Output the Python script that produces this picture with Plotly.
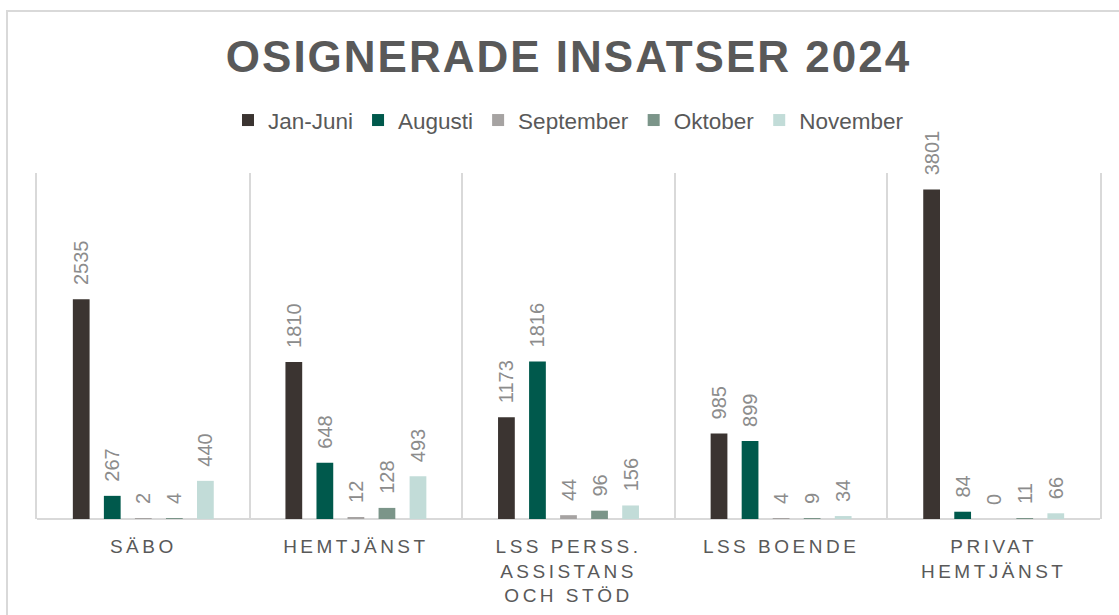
import plotly.graph_objects as go

categories = ["SÄBO", "HEMTJÄNST", "LSS PERSS.<br>ASSISTANS<br>OCH STÖD", "LSS BOENDE", "PRIVAT<br>HEMTJÄNST"]
series_names = ["Jan-Juni", "Augusti", "September", "Oktober", "November"]
jan_juni = [2535, 1810, 1173, 985, 3801]
augusti = [267, 648, 1816, 899, 84]
september = [2, 12, 44, 4, 0]
oktober = [4, 128, 96, 9, 11]
november = [440, 493, 156, 34, 66]
colors = ["#3b3431", "#00594c", "#a6a3a2", "#7b9589", "#c2dcd8"]

series_values = [jan_juni, augusti, september, oktober, november]
FONT = "Liberation Sans, Arial, sans-serif"

fig = go.Figure()
xpos = list(range(len(categories)))
for name, vals, col in zip(series_names, series_values, colors):
    fig.add_trace(go.Bar(
        x=xpos, y=vals, name=name, marker=dict(color=col, line=dict(width=0)),
        text=vals, texttemplate="\u00a0\u00a0%{text}", textposition="outside",
        textangle=-90, constraintext="none", cliponaxis=False,
        textfont=dict(family=FONT, size=20, color="#8c8c8c"),
        hoverinfo="skip",
    ))

fig.update_layout(
    width=1119, height=615,
    margin=dict(l=37, r=19, t=173, b=96, autoexpand=False),
    paper_bgcolor="white", plot_bgcolor="white",
    barmode="group", bargap=0.27, bargroupgap=0.46,
    title=dict(text="<b>OSIGNERADE INSATSER 2024</b>", x=0.5, xref="paper",
               y=1 - 57 / 615, yref="container", yanchor="middle", xanchor="center",
               font=dict(family=FONT, size=44, color="#595959")),
    legend=dict(orientation="h", x=0.5, xanchor="center", y=1.152, yanchor="middle",
                font=dict(family=FONT, size=22.5, color="#595959"), itemclick=False,
                itemwidth=30, tracegroupgap=0),
    showlegend=True,
    xaxis=dict(
        range=[-0.5, 4.5], tickmode="array", tickvals=xpos, ticktext=categories,
        showgrid=False, zeroline=False, showline=False,
        tickfont=dict(family=FONT, size=19, color="#595959"),
        ticks="", ticklabelstandoff=14, automargin=False,
        minor=dict(tickmode="linear", tick0=-0.5, dtick=1, showgrid=True,
                   gridcolor="#d9d9d9", gridwidth=2, ticks=""),
        fixedrange=True,
    ),
    yaxis=dict(range=[0, 3990], visible=True, showticklabels=False, showgrid=False,
               showline=True, mirror=True, linecolor="#d9d9d9", linewidth=2,
               zeroline=True, zerolinecolor="#d9d9d9", zerolinewidth=2,
               fixedrange=True, automargin=False),
    shapes=[dict(type="rect", xref="paper", yref="paper",
                 x0=(7 - 37) / 1063, x1=1.1, y0=-0.5, y1=(519 - 11) / 346,
                 line=dict(color="#d9d9d9", width=2), fillcolor="rgba(0,0,0,0)", layer="below")],
)

post = ("document.body.style.margin='0';document.body.style.overflow='hidden';"
        "var s=document.createElement('style');"
        "s.textContent='body{margin:0}.xtick text{letter-spacing:3.5px}.gtitle{letter-spacing:2px}';"
        "document.head.appendChild(s);")
fig.write_html("out.html", post_script=post,
               config={"responsive": False, "displayModeBar": False})
